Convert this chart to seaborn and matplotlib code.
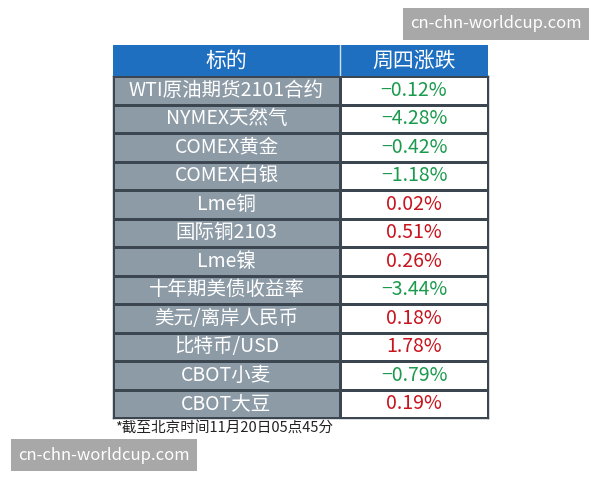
import matplotlib
matplotlib.use("Agg")
import matplotlib.pyplot as plt
import seaborn as sns
import numpy as np
from matplotlib.colors import ListedColormap
from matplotlib.patches import Rectangle

sns.set_theme(style="white")
plt.rcParams['font.family'] = ['Noto Sans CJK SC', 'DejaVu Sans']

headers = ["标的", "周四涨跌"]
names = ["WTI原油期货2101合约", "NYMEX天然气", "COMEX黄金", "COMEX白银", "Lme铜", "国际铜2103",
         "Lme镍", "十年期美债收益率", "美元/离岸人民币", "比特币/USD", "CBOT小麦", "CBOT大豆"]
changes = [-0.12, -4.28, -0.42, -1.18, 0.02, 0.51, 0.26, -3.44, 0.18, 1.78, -0.79, 0.19]
note = "*截至北京时间11月20日05点45分"
watermark = "cn-chn-worldcup.com"

W, H = 600, 480
fig = plt.figure(figsize=(6, 4.8), dpi=100)

def fx(x): return x / W
def fy(y): return 1 - y / H

ax = fig.add_axes([fx(113), fy(418), fx(488) - fx(113), fy(76) - fy(418)])
mat = np.tile([0, 1], (len(names), 1))
cm = ListedColormap(["#8d9ba7", "#ffffff"])
sns.heatmap(mat, ax=ax, cmap=cm, cbar=False, linewidths=1.0, linecolor="#3c4650",
            xticklabels=False, yticklabels=False)
ax.collections[0].remove()
xs = np.array([0, 227 / 375 * 2, 2])
ax.pcolormesh(xs, np.arange(len(names) + 1), mat, cmap=cm, edgecolors="#3c4650", linewidth=1.0)
ax.set_xlim(0, 2)
ax.set_ylim(len(names), 0)
for s in ax.spines.values():
    s.set_visible(True); s.set_color("#3c4650"); s.set_linewidth(1)
for i, (n, c) in enumerate(zip(names, changes)):
    ax.text(xs[1] / 2, i + 0.5, n, ha="center", va="center", color="white", fontsize=14)
    col = "#1a9a4c" if c < 0 else "#c8141e"
    ax.text((xs[1] + 2) / 2, i + 0.5, f"{c:.2f}%".replace("-", "−"), ha="center", va="center",
            color=col, fontsize=14)

hx = fig.add_axes([fx(113), fy(76), fx(488) - fx(113), fy(45) - fy(76)])
hx.set_xlim(0, 2); hx.set_ylim(0, 1); hx.axis("off")
hx.add_patch(Rectangle((0, 0), 2, 1, color="#1f6fc1"))
hx.plot([xs[1], xs[1]], [0, 1], color="#cfe0f0", lw=1)
hx.text(xs[1] / 2, 0.5, headers[0], ha="center", va="center", color="white", fontsize=15)
hx.text((xs[1] + 2) / 2, 0.5, headers[1], ha="center", va="center", color="white", fontsize=15)

fig.text(fx(115), fy(428), note, ha="left", va="center", fontsize=10.5, color="#222222")

fig.text(fx(496), fy(24), watermark, ha="center", va="center", fontsize=12, color="white",
         bbox=dict(boxstyle="square,pad=0.45", fc="#a8a8a8", ec="none"))
fig.text(fx(104), fy(455), watermark, ha="center", va="center", fontsize=12, color="white",
         bbox=dict(boxstyle="square,pad=0.45", fc="#a8a8a8", ec="none"))

fig.savefig("out.png", dpi=100)
